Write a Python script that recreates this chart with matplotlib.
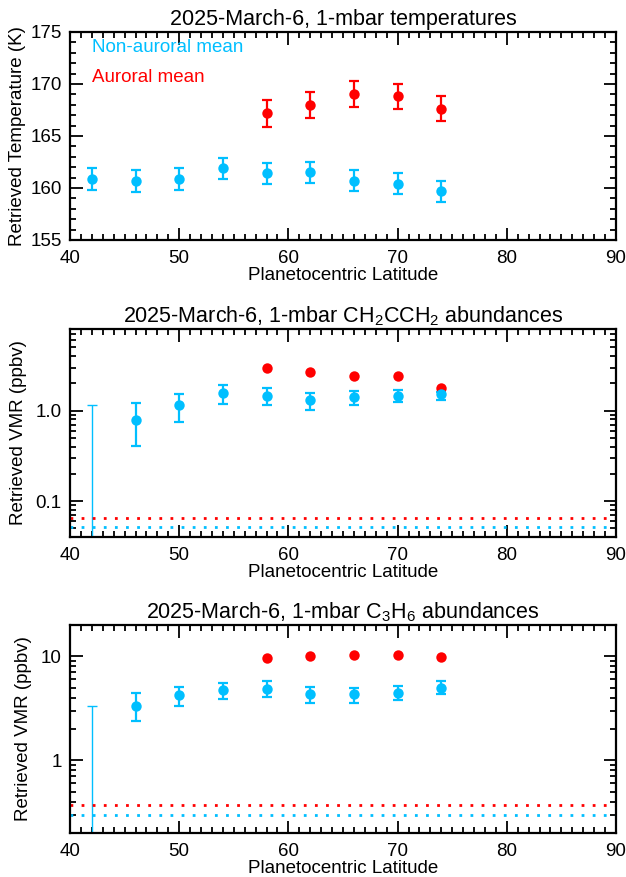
import numpy as np
import matplotlib
matplotlib.use('Agg')
import matplotlib.pyplot as plt
from matplotlib.ticker import MultipleLocator, LogLocator, FixedLocator, FixedFormatter, NullFormatter

plt.rcParams['font.family'] = ['Liberation Sans', 'DejaVu Sans']
plt.rcParams['mathtext.fontset'] = 'custom'
plt.rcParams['mathtext.rm'] = 'Liberation Sans'
plt.rcParams['mathtext.it'] = 'Liberation Sans'

BLUE = '#00BFFF'
RED = '#FF0000'

# latitudes
lat_nonaur = [42, 46, 50, 54, 58, 62, 66, 70, 74]
lat_aur = [58, 62, 66, 70, 74]

# 1-mbar temperatures (K)
temp_nonaur = [160.9, 160.7, 160.9, 161.9, 161.4, 161.5, 160.7, 160.4, 159.7]
temp_nonaur_err = [1.05, 1.05, 1.05, 1.0, 1.0, 1.0, 1.0, 1.0, 1.0]
temp_aur = [167.2, 168.0, 169.0, 168.8, 167.6]
temp_aur_err = [1.3, 1.27, 1.25, 1.22, 1.2]

# CH2CCH2 (ppbv); 42 deg is an upper limit only
allene_nonaur = [0.78, 1.15, 1.56, 1.47, 1.30, 1.40, 1.45, 1.52]
allene_nonaur_hi = [1.21, 1.53, 1.91, 1.77, 1.56, 1.64, 1.71, 1.60]
allene_nonaur_lo = [0.41, 0.74, 1.19, 1.14, 1.01, 1.15, 1.25, 1.31]
allene_aur = [3.0, 2.66, 2.40, 2.40, 1.80]
allene_upper_42 = 1.15
allene_limit_aur = 0.065
allene_limit_nonaur = 0.051

# C3H6 (ppbv)
propene_nonaur = [3.35, 4.23, 4.72, 4.86, 4.30, 4.30, 4.43, 5.0]
propene_nonaur_hi = [4.45, 5.11, 5.58, 5.75, 5.08, 5.00, 5.19, 5.83]
propene_nonaur_lo = [2.39, 3.33, 3.91, 4.02, 3.53, 3.56, 3.79, 4.30]
propene_aur = [9.6, 10.0, 10.3, 10.4, 9.8]
propene_upper_42 = 3.3
propene_limit_aur = 0.37
propene_limit_nonaur = 0.30

W, H = 626, 877
fig = plt.figure(figsize=(W / 100, H / 100), dpi=100)

def box(top, bottom):
    return [70 / W, 1 - bottom / H, 546 / W, (bottom - top) / H]

def style(ax):
    ax.set_xlim(40, 90)
    ax.xaxis.set_major_locator(MultipleLocator(10))
    ax.xaxis.set_minor_locator(MultipleLocator(1))
    ax.tick_params(which='both', direction='in', top=True, right=True, labelsize=13.5, width=1.3)
    ax.tick_params(which='major', length=9, pad=6)
    ax.tick_params(axis='x', which='major', pad=7)
    ax.tick_params(which='minor', length=4.5)
    for s in ax.spines.values():
        s.set_linewidth(1.6)
    ax.set_xlabel('Planetocentric Latitude', fontsize=13.5, labelpad=0)

eb = dict(fmt='o', ms=7.5, capsize=3.5, elinewidth=1.6, capthick=1.6, mec='none')

# temperatures
ax1 = fig.add_axes(box(32, 240))
ax1.errorbar(lat_nonaur, temp_nonaur, yerr=temp_nonaur_err, color=BLUE, **eb)
ax1.errorbar(lat_aur, temp_aur, yerr=temp_aur_err, color=RED, **eb)
ax1.set_ylim(155, 175)
ax1.yaxis.set_major_locator(MultipleLocator(5))
ax1.yaxis.set_minor_locator(MultipleLocator(1))
ax1.text(0.04, 0.925, 'Non-auroral mean', color=BLUE, fontsize=13.5, transform=ax1.transAxes, va='center')
ax1.text(0.04, 0.78, 'Auroral mean', color=RED, fontsize=13.5, transform=ax1.transAxes, va='center')
ax1.set_ylabel('Retrieved Temperature (K)', fontsize=13.5, labelpad=3)
ax1.set_title('2025-March-6, 1-mbar temperatures', fontsize=15.5, pad=5)
style(ax1)


def gas_panel(ax, vals, lo, hi, aur, upper42, lim_aur, lim_non, ylim, ticks, labels, title):
    vals = np.array(vals)
    yerr = [vals - np.array(lo), np.array(hi) - vals]
    ax.set_yscale('log')
    ax.set_ylim(*ylim)
    # upper limit at 42 deg (no retrieved point)
    ax.errorbar([lat_nonaur[0]], [ylim[0] * 0.5], yerr=[[0], [upper42 - ylim[0] * 0.5]],
                fmt='none', ecolor=BLUE, elinewidth=1.0, capsize=3.5, capthick=1.0)
    ax.errorbar(lat_nonaur[1:], vals, yerr=yerr, color=BLUE, **eb)
    ax.plot(lat_aur, aur, 'o', color=RED, ms=7.5, mec='none')
    ax.axhline(lim_aur, color=RED, ls=(0, (1, 3)), lw=2)
    ax.axhline(lim_non, color=BLUE, ls=(0, (1, 3)), lw=2)
    ax.yaxis.set_major_locator(FixedLocator(ticks))
    ax.yaxis.set_major_formatter(FixedFormatter(labels))
    ax.yaxis.set_minor_locator(LogLocator(base=10, subs=np.arange(2, 10)))
    ax.yaxis.set_minor_formatter(NullFormatter())
    ax.set_ylabel('Retrieved VMR (ppbv)', fontsize=13.5, labelpad=6)
    ax.set_title(title, fontsize=15.5, pad=5)
    style(ax)


ax2 = fig.add_axes(box(329, 537))
gas_panel(ax2, allene_nonaur, allene_nonaur_lo, allene_nonaur_hi, allene_aur, allene_upper_42,
          allene_limit_aur, allene_limit_nonaur, (0.04, 8), [0.1, 1.0], ['0.1', '1.0'],
          r'2025-March-6, 1-mbar CH$_2$CCH$_2$ abundances')

ax3 = fig.add_axes(box(625, 833))
gas_panel(ax3, propene_nonaur, propene_nonaur_lo, propene_nonaur_hi, propene_aur, propene_upper_42,
          propene_limit_aur, propene_limit_nonaur, (0.2, 20), [1, 10], ['1', '10'],
          r'2025-March-6, 1-mbar C$_3$H$_6$ abundances')

fig.savefig('out.png', dpi=100)
